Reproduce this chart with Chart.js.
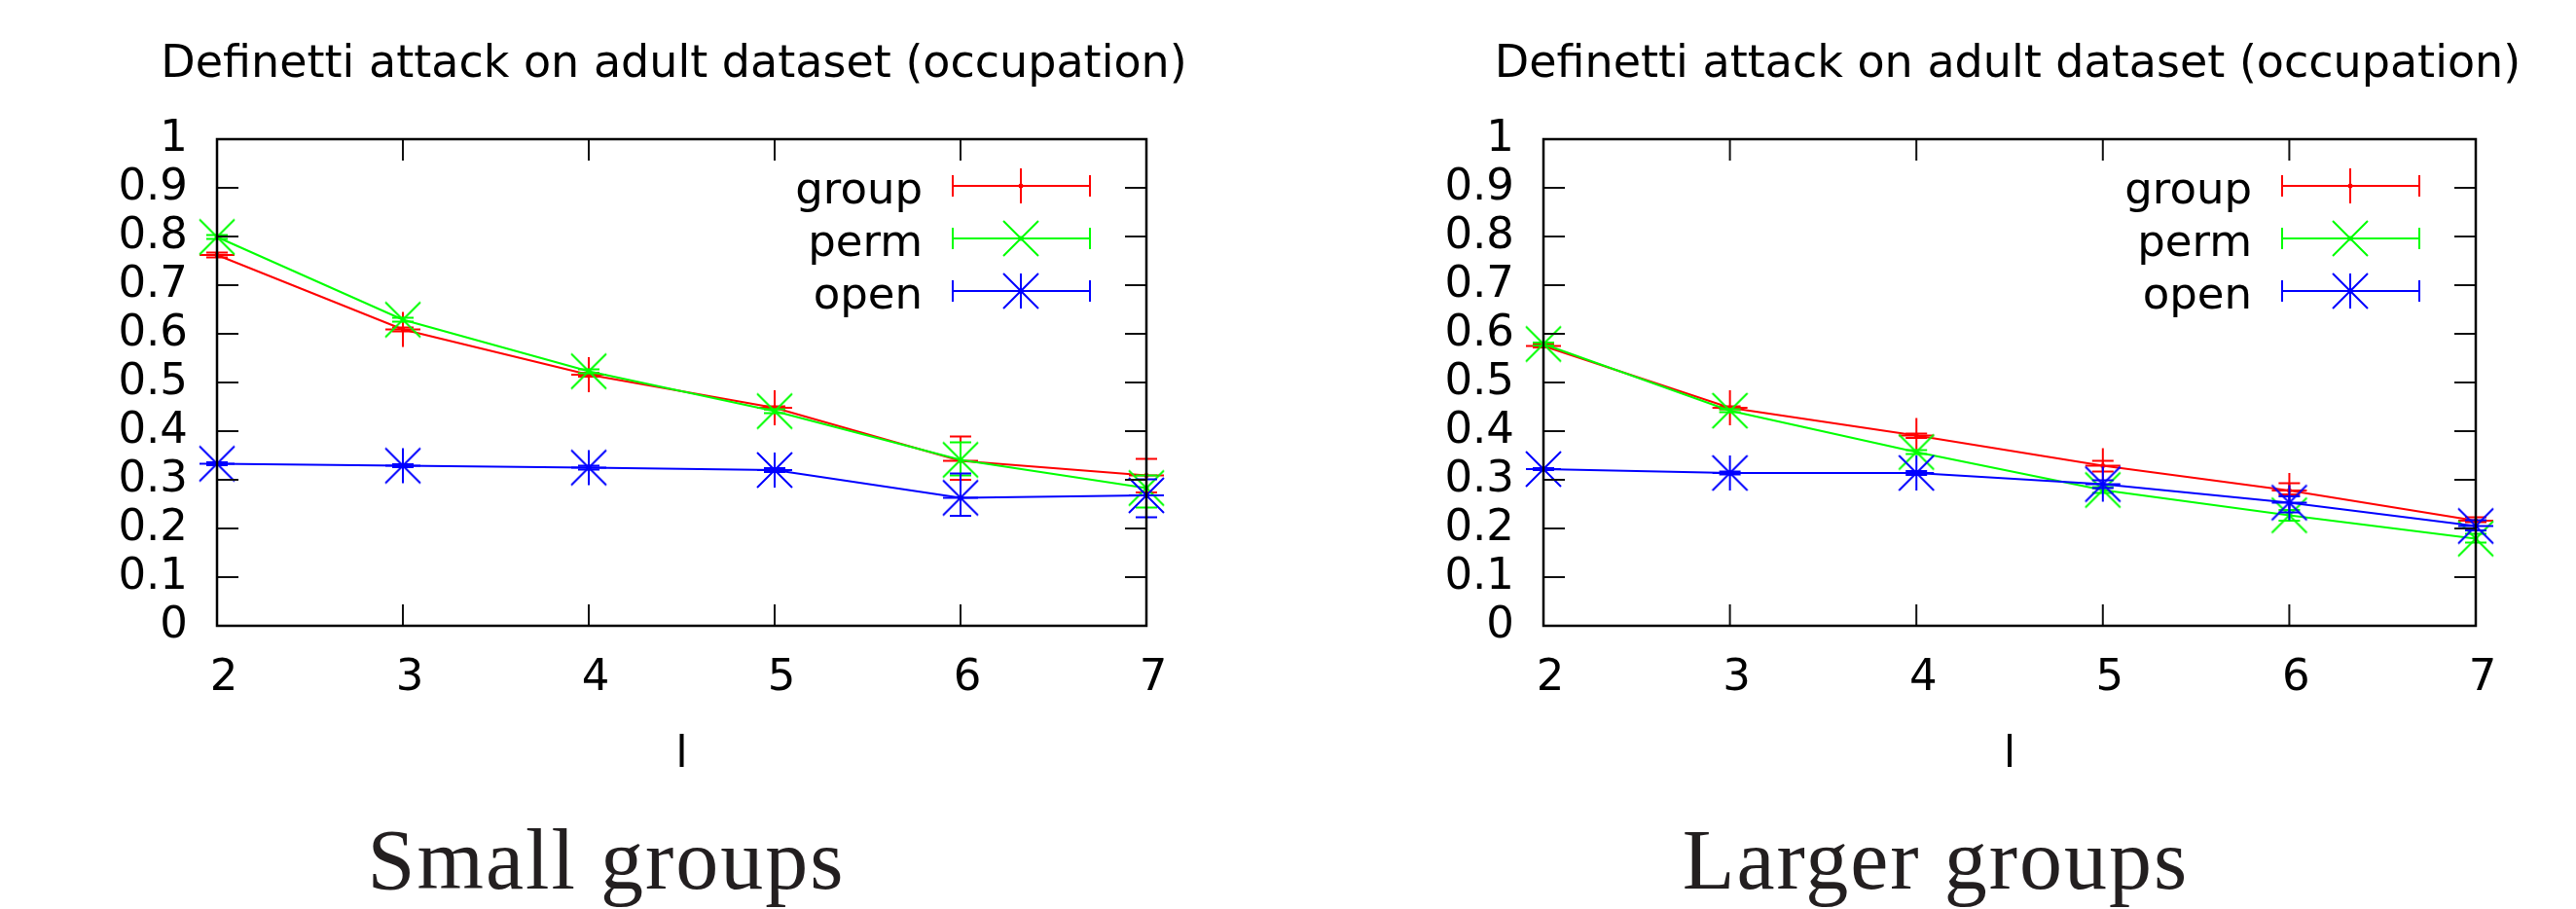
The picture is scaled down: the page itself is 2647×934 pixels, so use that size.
<!DOCTYPE html>
<html>
<head>
<meta charset="utf-8">
<script src="https://cdn.jsdelivr.net/npm/chart.js@4"></script>
<style>
  body { margin: 0; background: #fff; width: 2647px; height: 934px; overflow: hidden; position: relative; }
  .panel { position: absolute; top: 0; }
  .caption { position: absolute; top: 840px; font-family: "Liberation Serif", serif; font-size: 88px; line-height: 88px; letter-spacing: 2px; color: #231f20; white-space: nowrap; transform: translateX(-50%); }
</style>
</head>
<body>
<canvas id="smallChart" class="panel" width="1324" height="934" style="left:0"></canvas>
<canvas id="largeChart" class="panel" width="1323" height="934" style="left:1324px"></canvas>
<div class="caption" style="left:623px">Small groups</div>
<div class="caption" style="left:1989px">Larger groups</div>
<script>
const lValues = [2, 3, 4, 5, 6, 7];
const seriesNames = ['group', 'perm', 'open'];
const chartTitle = 'Definetti attack on adult dataset (occupation)';
const yTickLabels = ['0', '0.1', '0.2', '0.3', '0.4', '0.5', '0.6', '0.7', '0.8', '0.9', '1'];

// small groups
const groupSmall   = [0.762, 0.609, 0.516, 0.448, 0.339, 0.309];
const groupSmallLo = [0.757, 0.605, 0.512, 0.445, 0.300, 0.274];
const groupSmallHi = [0.767, 0.613, 0.520, 0.451, 0.389, 0.343];
const permSmall    = [0.799, 0.629, 0.523, 0.441, 0.341, 0.283];
const permSmallLo  = [0.795, 0.625, 0.519, 0.437, 0.309, 0.243];
const permSmallHi  = [0.803, 0.633, 0.527, 0.445, 0.377, 0.309];
const openSmall    = [0.333, 0.329, 0.325, 0.320, 0.263, 0.268];
const openSmallLo  = [0.330, 0.326, 0.321, 0.316, 0.226, 0.223];
const openSmallHi  = [0.336, 0.332, 0.329, 0.324, 0.313, 0.301];

// larger groups
const groupLarge   = [0.575, 0.448, 0.391, 0.329, 0.278, 0.216];
const groupLargeLo = [0.572, 0.445, 0.386, 0.317, 0.270, 0.213];
const groupLargeHi = [0.578, 0.451, 0.395, 0.339, 0.293, 0.223];
const permLarge    = [0.579, 0.442, 0.357, 0.279, 0.227, 0.179];
const permLargeLo  = [0.576, 0.439, 0.353, 0.273, 0.216, 0.171];
const permLargeHi  = [0.582, 0.445, 0.361, 0.285, 0.238, 0.189];
const openLarge    = [0.322, 0.314, 0.314, 0.291, 0.253, 0.205];
const openLargeLo  = [0.320, 0.311, 0.310, 0.283, 0.233, 0.196];
const openLargeHi  = [0.324, 0.317, 0.318, 0.299, 0.266, 0.217];

const colors = ['#ff0000', '#00ff00', '#0000ff'];
const shapes = ['plus', 'cross', 'star'];

Chart.defaults.font.family = 'DejaVu Sans';
Chart.defaults.font.size = 45;
Chart.defaults.color = '#000';

// gnuplot style point markers
function makeMarker(shape, color) {
    const c = document.createElement('canvas');
    c.width = 40; c.height = 40;
    const g = c.getContext('2d');
    const m = 20, r = 18;
    g.strokeStyle = color;
    g.lineWidth = 2;
    g.beginPath();
    if (shape === 'plus' || shape === 'star') {
        g.moveTo(m - r, m); g.lineTo(m + r, m);
        g.moveTo(m, m - r); g.lineTo(m, m + r);
    }
    if (shape === 'cross' || shape === 'star') {
        g.moveTo(m - r, m - r); g.lineTo(m + r, m + r);
        g.moveTo(m - r, m + r); g.lineTo(m + r, m - r);
    }
    g.stroke();
    g.fillStyle = color;
    g.beginPath(); g.arc(m, m, 2.5, 0, Math.PI * 2); g.fill();
    return c;
}
const markers = shapes.map((s, i) => makeMarker(s, colors[i]));

const errorBars = {
    id: 'errorBars',
    afterDatasetDraw(chart, args) {
        const ds = chart.data.datasets[args.index];
        const xs = chart.scales.x, ys = chart.scales.y;
        const ctx = chart.ctx;
        ctx.save();
        ctx.strokeStyle = ds.borderColor;
        ctx.lineWidth = 2;
        ctx.beginPath();
        ds.data.forEach((p, i) => {
            const px = xs.getPixelForValue(p.x);
            const lo = ys.getPixelForValue(ds.yLow[i]);
            const hi = ys.getPixelForValue(ds.yHigh[i]);
            ctx.moveTo(px, lo); ctx.lineTo(px, hi);
            ctx.moveTo(px - 11, lo); ctx.lineTo(px + 11, lo);
            ctx.moveTo(px - 11, hi); ctx.lineTo(px + 11, hi);
        });
        ctx.stroke();
        ctx.restore();
    }
};

const frameAndKey = {
    id: 'frameAndKey',
    afterDatasetsDraw(chart, args, opts) {
        const {ctx, chartArea: a, scales: {x, y}} = chart;
        ctx.save();
        // inward ticks on all four sides
        ctx.strokeStyle = '#111';
        ctx.lineWidth = 2;
        ctx.beginPath();
        y.ticks.forEach(t => {
            const py = y.getPixelForValue(t.value);
            ctx.moveTo(a.left, py); ctx.lineTo(a.left + 22, py);
            ctx.moveTo(a.right, py); ctx.lineTo(a.right - 22, py);
        });
        x.ticks.forEach(t => {
            const px = x.getPixelForValue(t.value);
            ctx.moveTo(px, a.bottom); ctx.lineTo(px, a.bottom - 22);
            ctx.moveTo(px, a.top); ctx.lineTo(px, a.top + 22);
        });
        ctx.stroke();
        ctx.strokeStyle = '#000';
        ctx.lineWidth = 2.5;
        ctx.strokeRect(a.left, a.top, a.right - a.left, a.bottom - a.top);

        // key
        ctx.font = '45px "DejaVu Sans"';
        ctx.textAlign = 'right';
        ctx.textBaseline = 'alphabetic';
        chart.data.datasets.forEach((ds, i) => {
            const ry = a.top + 48 + 54 * i;
            ctx.fillStyle = '#000';
            ctx.fillText(ds.label, a.right - 230, ry + 18);
            const x0 = a.right - 199, x1 = a.right - 58;
            ctx.strokeStyle = ds.borderColor;
            ctx.lineWidth = 2;
            ctx.beginPath();
            ctx.moveTo(x0, ry); ctx.lineTo(x1, ry);
            ctx.moveTo(x0, ry - 11); ctx.lineTo(x0, ry + 11);
            ctx.moveTo(x1, ry - 11); ctx.lineTo(x1, ry + 11);
            ctx.stroke();
            ctx.drawImage(ds.pointStyle, a.right - 129 - 20, ry - 20);
        });

        // title
        ctx.font = '46px "DejaVu Sans"';
        ctx.textAlign = 'center';
        ctx.fillText(opts.text, (a.left + a.right) / 2 + opts.dx, 79);
        ctx.restore();
    }
};

function makeChart(id, values, lows, highs, yWidth, padRight, titleDx) {
    const datasets = seriesNames.map((name, i) => ({
        label: name,
        data: lValues.map((l, j) => ({x: l, y: values[i][j]})),
        yLow: lows[i],
        yHigh: highs[i],
        borderColor: colors[i],
        backgroundColor: colors[i],
        borderWidth: 2,
        pointStyle: markers[i],
        pointRadius: 18,
        tension: 0,
        fill: false,
        clip: false,
        order: 3 - i
    }));
    return new Chart(document.getElementById(id), {
        type: 'line',
        data: {datasets},
        plugins: [errorBars, frameAndKey],
        options: {
            responsive: false,
            animation: false,
            layout: {padding: {left: 0, right: padRight, top: 143, bottom: 131}},
            plugins: {
                legend: {display: false},
                tooltip: {enabled: false},
                frameAndKey: {text: chartTitle, dx: titleDx}
            },
            scales: {
                x: {
                    type: 'linear',
                    min: 2, max: 7,
                    grid: {display: false, drawTicks: false},
                    border: {display: false},
                    ticks: {stepSize: 1, padding: 27, labelOffset: 7, autoSkip: false},
                    title: {display: true, text: 'l', padding: 0},
                    afterFit(scale) { scale.height = 160; }
                },
                y: {
                    min: 0, max: 1,
                    grid: {display: false, drawTicks: false},
                    border: {display: false},
                    ticks: {
                        stepSize: 0.1, padding: 30, autoSkip: false,
                        callback: (v, i) => yTickLabels[i]
                    },
                    afterFit(scale) { scale.width = yWidth; }
                }
            }
        }
    });
}

makeChart('smallChart',
    [groupSmall, permSmall, openSmall],
    [groupSmallLo, permSmallLo, openSmallLo],
    [groupSmallHi, permSmallHi, openSmallHi],
    223, 146, -8);

makeChart('largeChart',
    [groupLarge, permLarge, openLarge],
    [groupLargeLo, permLargeLo, openLargeLo],
    [groupLargeHi, permLargeHi, openLargeHi],
    262, 103, -2);
</script>
</body>
</html>
